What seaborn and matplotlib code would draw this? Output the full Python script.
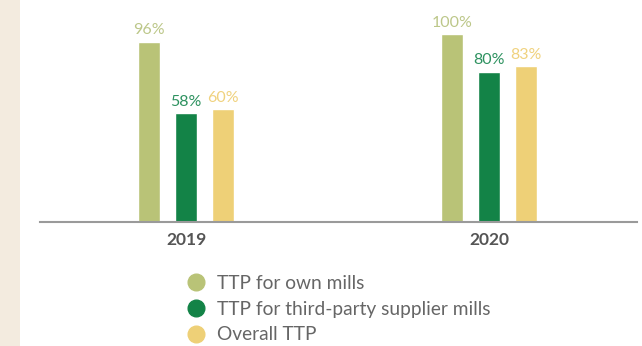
import matplotlib
matplotlib.use("Agg")
import matplotlib.pyplot as plt
from matplotlib.lines import Line2D
from matplotlib.patches import Rectangle
import pandas as pd
import seaborn as sns

years = ["2019", "2020"]
series = ["TTP for own mills", "TTP for third-party supplier mills", "Overall TTP"]
own_mills = [96, 100]
third_party = [58, 80]
overall = [60, 83]

bar_colors = ["#B9C377", "#138347", "#EED077"]
text_colors = ["#BCC789", "#2E9260", "#F0D27E"]


def build_frame():
    rows = []
    for name, vals in zip(series, [own_mills, third_party, overall]):
        for y, v in zip(years, vals):
            rows.append({"year": y, "series": name, "value": v})
    return pd.DataFrame(rows)


def main():
    sns.set_style("white")
    plt.rcParams["font.family"] = ["Lato", "DejaVu Sans"]

    df = build_frame()
    fig = plt.figure(figsize=(6.42, 3.46), dpi=100)
    fig.patches.append(Rectangle((0, 0), 20 / 642, 1, transform=fig.transFigure,
                                 facecolor="#F3EBDF", edgecolor="none", zorder=0))

    ax = fig.add_axes([40 / 642, 124 / 346, 597 / 642, 188 / 346])
    sns.barplot(data=df, x="year", y="value", hue="series", hue_order=series,
                palette=bar_colors, width=0.366, gap=0.4, legend=False, ax=ax,
                saturation=1)

    for cont, col in zip(ax.containers, text_colors):
        ax.bar_label(cont, labels=[f"{int(b.get_height())}%" for b in cont],
                     color=col, fontsize=11.5, padding=3)

    ax.set_ylim(0, 100)
    ax.set_xlim(-0.482, 1.488)
    ax.set_xlabel("")
    ax.set_ylabel("")
    ax.set_yticks([])
    ax.tick_params(axis="x", length=0, pad=7)
    for lbl in ax.get_xticklabels():
        lbl.set_fontsize(12.5)
        lbl.set_fontweight("bold")
        lbl.set_color("#555555")
    for s in ["top", "left", "right"]:
        ax.spines[s].set_visible(False)
    ax.spines["bottom"].set_color("#9A9A9A")
    ax.spines["bottom"].set_linewidth(1.5)

    handles = [Line2D([0], [0], marker="o", linestyle="none", markersize=12,
                      markerfacecolor=c, markeredgecolor=c) for c in bar_colors]
    fig.legend(handles, series, loc="upper left",
               bbox_to_anchor=(186 / 642, 1 - 275 / 346), frameon=False,
               fontsize=13.8, labelcolor="#666666", handlelength=1.0,
               handletextpad=0.6, labelspacing=0.45, borderpad=0,
               borderaxespad=0)

    fig.savefig("out.png", dpi=100)


if __name__ == "__main__":
    main()
